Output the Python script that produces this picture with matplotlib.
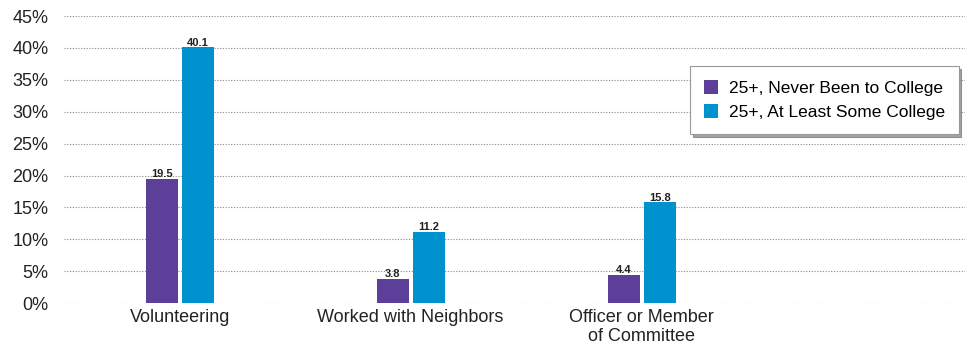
import numpy as np
import matplotlib
matplotlib.use("Agg")
import matplotlib.pyplot as plt
from matplotlib.ticker import FuncFormatter

categories = ["Volunteering", "Worked with Neighbors", "Officer or Member\nof Committee"]
series_names = ["25+, Never Been to College", "25+, At Least Some College"]
never_college = [19.5, 3.8, 4.4]
some_college = [40.1, 11.2, 15.8]
colors = ["#5B3F98", "#0091CF"]

plt.rcParams["font.family"] = ["Liberation Sans", "DejaVu Sans"]

fig = plt.figure(figsize=(9.65, 3.5), dpi=100)
ax = fig.add_axes([0.066, 0.134, 0.934, 0.82])

x = np.arange(len(categories))
w = 0.139
off = 0.078
for vals, c, name, sign in [(never_college, colors[0], series_names[0], -1),
                            (some_college, colors[1], series_names[1], 1)]:
    bars = ax.bar(x + sign * off, vals, width=w, color=c, label=name, zorder=3)
    for b, v in zip(bars, vals):
        ax.text(b.get_x() + b.get_width() / 2, v - 0.05, f"{v:.1f}",
                ha="center", va="bottom", fontsize=8, fontweight="bold",
                color="#222222", zorder=4)

ax.set_xlim(-0.502, 3.4)
ax.set_ylim(0, 45)
ax.set_yticks(range(0, 46, 5))
ax.yaxis.set_major_formatter(FuncFormatter(lambda v, _: f"{v:.0f}%"))
ax.set_xticks(x)
ax.set_xticklabels(categories)
ax.grid(axis="y", linestyle=(0, (1, 1.5)), color="#888888", linewidth=0.8, zorder=0)
for s in ax.spines.values():
    s.set_visible(False)
ax.tick_params(axis="both", length=0, labelsize=13, colors="#222222")
ax.tick_params(axis="y", pad=11)
ax.tick_params(axis="x", pad=4)

leg = ax.legend(loc="upper right", bbox_to_anchor=(0.993, 0.826), borderaxespad=0,
                fontsize=12.5, frameon=True, fancybox=False, shadow=True,
                handlelength=0.8, handleheight=0.9, handletextpad=0.6,
                borderpad=0.8, labelspacing=0.45)
leg.get_frame().set_edgecolor("#999999")
leg.get_frame().set_linewidth(0.8)

fig.savefig("out.png", dpi=100)
